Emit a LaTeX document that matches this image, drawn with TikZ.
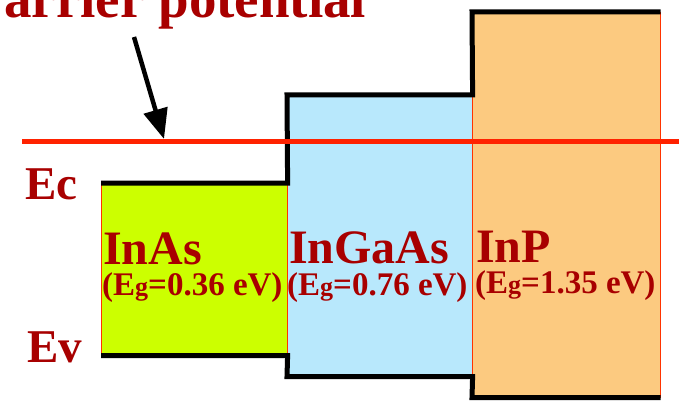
\documentclass[tikz,border=0pt]{standalone}
\usepackage{fontspec}
\setmainfont{Liberation Serif}
\usetikzlibrary{positioning, arrows.meta, calc}
\definecolor{labred}{HTML}{A80000}
\definecolor{barred}{HTML}{FF2200}
\definecolor{inasfill}{HTML}{CCFF00}
\definecolor{ingaasfill}{HTML}{B8E8FC}
\definecolor{inpfill}{HTML}{FCCA80}
\newcommand{\egsub}{E{\fontsize{26}{26}\selectfont g}}

\begin{document}
\begin{tikzpicture}[x=1pt, y=-1pt, font=\bfseries, >={Triangle[length=30pt, width=24pt]},
  layer/.style={draw=red!60!orange, line width=0.6pt, anchor=north west, inner sep=0pt, minimum width=185pt},
  band/.style={line width=5pt, line join=miter},
  matname/.style={text=labred, anchor=base west, inner sep=0pt, font=\bfseries\fontsize{48}{48}\selectfont},
  gaplabel/.style={text=labred, anchor=base west, inner sep=0pt, font=\bfseries\fontsize{33}{33}\selectfont},
  edgelabel/.style={text=labred, anchor=base west, inner sep=0pt, font=\bfseries\fontsize{47}{47}\selectfont}]
  \useasboundingbox (0,0) rectangle (679,401);
  % semiconductor layers
  \node[layer, fill=inasfill, minimum width=186pt, minimum height=172pt] (inas) at (101,183) {};
  \node[layer, fill=ingaasfill, minimum height=281pt] (ingaas) at (287,95) {};
  \node[layer, fill=inpfill, minimum width=188pt, minimum height=385pt] (inp) at (472,12) {};
  % band edges
  \draw[band] (inas.north west) -- (inas.north east) -- (ingaas.north west) -- (ingaas.north east)
    -- (inp.north west) -- (inp.north east);
  \draw[band] (inas.south west) -- (inas.south east) -- (ingaas.south west) -- (ingaas.south east)
    -- (inp.south west) -- (inp.south east);
  % barrier level
  \coordinate (barl) at (22,141);
  \coordinate (barr) at (679,141);
  \draw[barred, line width=5pt] (barl) -- (barr);
  \node[edgelabel] (ec) at (25,199) {Ec};
  \node[edgelabel] (ev) at (27,362) {Ev};
  \node[matname] (inasname) at (103,264) {InAs};
  \node[gaplabel] (inasgap) at (102,295) {(\egsub=0.36 eV)};
  \node[matname] (ingaasname) at (289,263) {InGaAs};
  \node[gaplabel] (ingaasgap) at (287,295) {(\egsub=0.76 eV)};
  \node[matname] (inpname) at (476,262) {InP};
  \node[gaplabel] (inpgap) at (475,293) {(\egsub=1.35 eV)};
  % title and pointer
  \node[text=labred, anchor=base west, inner sep=0pt, font=\bfseries\fontsize{55}{55}\selectfont] (title) at (4,18) {arrier potential};
  \coordinate (arrtail) at (134,37);
  \coordinate (arrtip) at (164,139);
  \draw[->, line width=4.5pt] (arrtail) -- (arrtip);
\end{tikzpicture}
\end{document}
